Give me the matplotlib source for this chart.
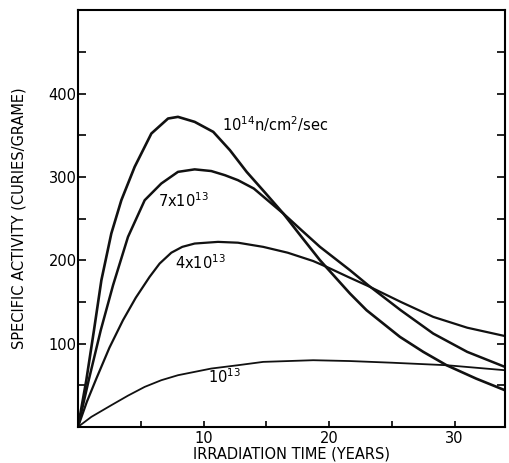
import matplotlib.pyplot as plt

# waarden (jaren, curies/gram)
x_1e14 = [0, 0.66, 1.27, 1.86, 2.65, 3.45, 4.51, 5.84, 7.17, 7.96, 9.29, 10.77, 12.1, 13.43, 14.9,
          16.35, 17.8, 19.27, 21.66, 22.98, 25.64, 27.5, 29.35, 31.7, 34]
y_1e14 = [0, 56, 116, 176, 232, 272, 312, 352, 370, 372, 366, 354, 332, 306, 281,
          256, 228, 200, 160, 140, 108, 90, 74, 58, 44]

x_7e13 = [0, 0.85, 1.81, 2.79, 3.98, 5.31, 6.63, 7.96, 9.29, 10.61, 11.7, 12.74, 14.0,
          16.35, 17.8, 19.27, 21.66, 23.11, 25.7, 28.29, 31, 34]
y_7e13 = [0, 56, 116, 170, 228, 272, 292, 306, 309, 307, 302, 296, 286,
          256, 236, 216, 188, 170, 140, 112, 90, 72]

x_4e13 = [0, 0.7, 1.46, 2.5, 3.58, 4.6, 5.7, 6.5, 7.43, 8.3, 9.29, 11.15, 12.74, 14.75,
          16.7, 18.73, 19.8, 21.5, 23.11, 25.7, 28.29, 31, 34]
y_4e13 = [0, 30, 58, 95, 128, 155, 180, 196, 209, 216, 220, 222, 221, 216,
          209, 199, 192, 180, 169, 150, 132, 119, 109]

x_1e13 = [0, 1.06, 2.65, 3.98, 5.31, 6.63, 7.96, 10.61, 12.74, 14.75, 18.73, 21.66, 25, 29.35, 34]
y_1e13 = [0, 12, 26, 37.5, 48, 56, 62, 70, 74, 78, 80, 79, 77, 74, 68]

fig = plt.figure(figsize=(5.10, 4.63), dpi=100)
ax = fig.add_axes([0.153, 0.078, 0.837, 0.900])

ax.plot(x_1e14, y_1e14, color='#111111', lw=1.9)
ax.plot(x_7e13, y_7e13, color='#111111', lw=1.8)
ax.plot(x_4e13, y_4e13, color='#111111', lw=1.6)
ax.plot(x_1e13, y_1e13, color='#111111', lw=1.3)

ax.text(11.46, 363, r'10$^{14}$n/cm$^{2}$/sec', fontsize=10.5, va='center')
ax.text(6.37, 272, r'7x10$^{13}$', fontsize=10.5, va='center')
ax.text(7.72, 197, r'4x10$^{13}$', fontsize=10.5, va='center')
ax.text(10.35, 60, r'10$^{13}$', fontsize=10.5, va='center')

ax.set_xlim(0, 34)
ax.set_ylim(0, 500)
ax.set_xticks([5, 10, 15, 20, 25, 30])
ax.set_xticklabels(['', '10', '', '20', '', '30'])
ax.set_yticks([50, 100, 150, 200, 250, 300, 350, 400, 450])
ax.set_yticklabels(['', '100', '', '200', '', '300', '', '400', ''])
ax.tick_params(axis='y', direction='in', length=6, width=1.2, right=True, pad=1, labelsize=10.5)
ax.tick_params(axis='x', direction='in', length=4, width=1.2, pad=3, labelsize=10.5)
for s in ax.spines.values():
    s.set_linewidth(1.5)

ax.set_xlabel('IRRADIATION TIME (YEARS)', fontsize=10.5, labelpad=0)
ax.set_ylabel('SPECIFIC ACTIVITY (CURIES/GRAME)', fontsize=10.5, labelpad=16)

plt.savefig('out.png', dpi=100)
